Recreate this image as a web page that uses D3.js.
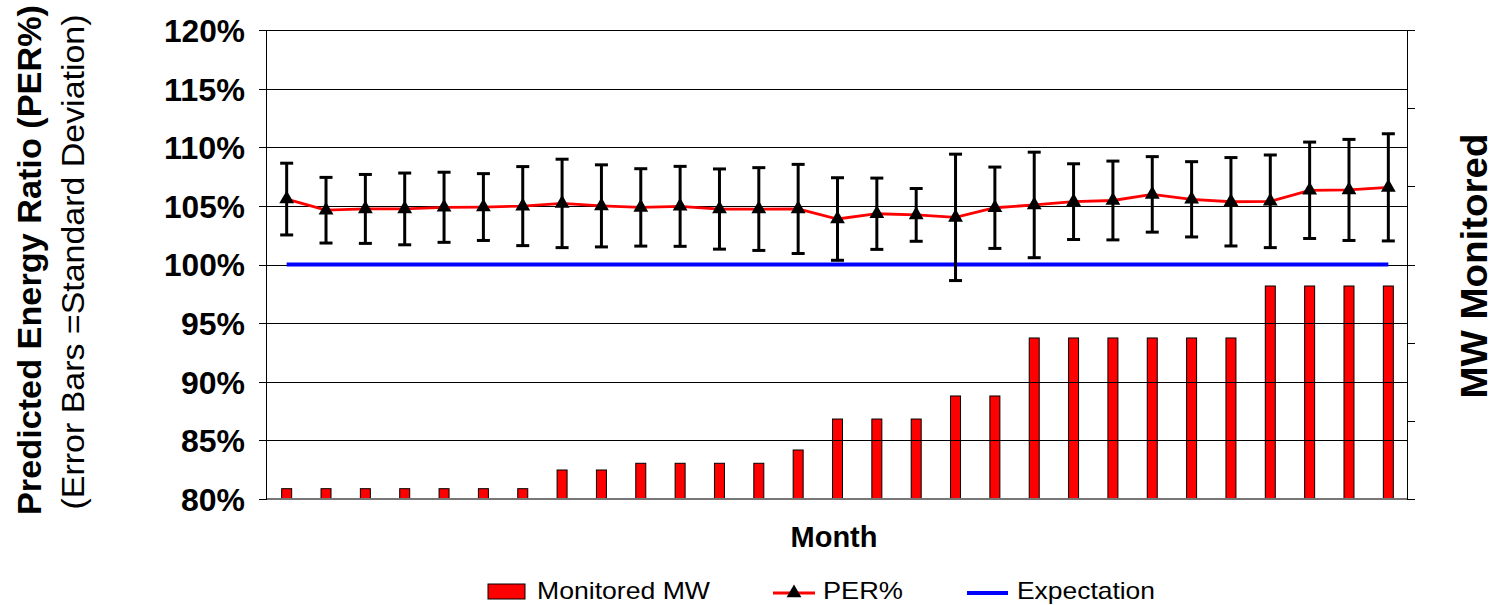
<!DOCTYPE html>
<html>
<head>
<meta charset="utf-8">
<script src="https://cdn.jsdelivr.net/npm/d3@7"></script>
<style>
  html, body { margin: 0; padding: 0; background: #fff; }
  svg { display: block; font-family: "Liberation Sans", Arial, sans-serif; }
</style>
</head>
<body>
<svg id="chart" width="1495" height="605"></svg>
<script>
// ---- data ----
const months = ["1","2","3","4","5","6","7","8","9","10","11","12","13","14","15",
                "16","17","18","19","20","21","22","23","24","25","26","27","28","29"];
const perValues = [105.58, 104.63, 104.74, 104.74, 104.88, 104.90, 104.98, 105.21, 105.00, 104.87,
                   104.96, 104.73, 104.73, 104.74, 103.88, 104.33, 104.23, 104.02, 104.84, 105.08,
                   105.36, 105.46, 105.98, 105.56, 105.35, 105.39, 106.33, 106.36, 106.58];
const perSD = [3.06, 2.80, 2.94, 3.06, 2.99, 2.85, 3.37, 3.77, 3.50, 3.30,
               3.41, 3.42, 3.53, 3.80, 3.52, 3.04, 2.25, 5.39, 3.47, 4.50,
               3.23, 3.36, 3.22, 3.21, 3.77, 3.95, 4.11, 4.31, 4.57];
const monitoredMW = [1.32, 1.32, 1.32, 1.32, 1.32, 1.32, 1.32, 3.71, 3.71, 4.57,
                     4.57, 4.57, 4.57, 6.27, 10.23, 10.23, 10.23, 13.18, 13.18, 20.6,
                     20.6, 20.6, 20.6, 20.6, 20.6, 27.25, 27.25, 27.25, 27.25];
const expectation = 100;
const leftTicks = [80, 85, 90, 95, 100, 105, 110, 115, 120];
const rightTicks = [0, 10, 20, 30, 40, 50, 60];
const legendLabels = ["Monitored MW", "PER%", "Expectation"];

// ---- layout ----
const svg = d3.select("#chart");
const L = 266, R = 1407, T = 30, B = 499;

const x = d3.scaleBand().domain(months).range([L, R]).padding(0);
const y = d3.scaleLinear().domain([80, 120]).range([B, T]);
const yR = d3.scaleLinear().domain([0, 60]).range([B, T]);
const cx = m => x(m) + x.bandwidth() / 2 + 1;

// bars (secondary axis)
const barW = 10;
svg.append("g").selectAll("rect").data(months).join("rect")
  .attr("x", (m) => cx(m) - barW / 2)
  .attr("y", (m, i) => yR(monitoredMW[i]))
  .attr("width", barW)
  .attr("height", (m, i) => B - yR(monitoredMW[i]))
  .attr("fill", "#ff0000")
  .attr("stroke", "#000")
  .attr("stroke-width", 1);

// gridlines
const grid = svg.append("g")
  .attr("transform", `translate(${L},0)`)
  .call(d3.axisLeft(y).tickValues(leftTicks.slice(1)).tickSize(-(R - L)).tickFormat(""));
grid.select(".domain").remove();
grid.selectAll("line").attr("stroke", "#000").attr("stroke-width", 1).attr("shape-rendering", "crispEdges");

// bottom axis line
svg.append("line").attr("x1", L).attr("x2", R).attr("y1", B).attr("y2", B)
  .attr("stroke", "#777").attr("stroke-width", 2);

// left axis
const ax = svg.append("g")
  .attr("transform", `translate(${L},0)`)
  .call(d3.axisLeft(y).tickValues(leftTicks).tickSize(7).tickPadding(14).tickFormat(d => d + "%"));
ax.select(".domain").attr("stroke", "#000").attr("shape-rendering", "crispEdges");
ax.selectAll("line").attr("stroke", "#000").attr("shape-rendering", "crispEdges");
ax.selectAll("text").attr("font-size", 31).attr("font-weight", "bold")
  .attr("font-family", "'Liberation Sans', Arial, sans-serif").attr("fill", "#000").attr("dy", "0.37em")
  .attr("textLength", 81).attr("lengthAdjust", "spacingAndGlyphs");
ax.selectAll("text").filter(d => d < 100).attr("textLength", 64);

// right axis
const axR = svg.append("g")
  .attr("transform", `translate(${R},0)`)
  .call(d3.axisRight(yR).tickValues(rightTicks).tickSize(8).tickFormat(""));
axR.select(".domain").attr("stroke", "#000").attr("shape-rendering", "crispEdges");
axR.selectAll("line").attr("stroke", "#000").attr("shape-rendering", "crispEdges");

// expectation line
svg.append("line")
  .attr("x1", cx(months[0])).attr("x2", cx(months[months.length - 1]))
  .attr("y1", y(expectation)).attr("y2", y(expectation))
  .attr("stroke", "#0000ff").attr("stroke-width", 3.8);

// PER% line
svg.append("path")
  .datum(months)
  .attr("fill", "none")
  .attr("stroke", "#ff0000")
  .attr("stroke-width", 2.8)
  .attr("d", d3.line().x(m => cx(m)).y((m, i) => y(perValues[i])));

// error bars
const eb = svg.append("g").attr("stroke", "#000").attr("stroke-width", 3);
const capW = 6.5;
months.forEach((m, i) => {
  const hi = y(perValues[i] + perSD[i]), lo = y(perValues[i] - perSD[i]), xc = cx(m);
  eb.append("line").attr("x1", xc).attr("x2", xc).attr("y1", hi).attr("y2", lo);
  eb.append("line").attr("x1", xc - capW).attr("x2", xc + capW).attr("y1", hi).attr("y2", hi);
  eb.append("line").attr("x1", xc - capW).attr("x2", xc + capW).attr("y1", lo).attr("y2", lo);
});

// markers
const tri = d3.symbol().type(d3.symbolTriangle).size(95);
svg.append("g").selectAll("path").data(months).join("path")
  .attr("d", tri)
  .attr("transform", (m, i) => `translate(${cx(m)},${y(perValues[i])})`)
  .attr("fill", "#000");

// titles
svg.append("text")
  .attr("transform", "translate(41,260) rotate(-90)")
  .attr("text-anchor", "middle").attr("font-size", 34).attr("font-weight", "bold")
  .attr("textLength", 510).attr("lengthAdjust", "spacingAndGlyphs")
  .text("Predicted Energy Ratio (PER%)");
svg.append("text")
  .attr("transform", "translate(84,262) rotate(-90)")
  .attr("text-anchor", "middle").attr("font-size", 32)
  .attr("textLength", 495).attr("lengthAdjust", "spacingAndGlyphs")
  .text("(Error Bars =Standard Deviation)");
svg.append("text")
  .attr("transform", "translate(1487,266) rotate(-90)")
  .attr("text-anchor", "middle").attr("font-size", 37).attr("font-weight", "bold")
  .attr("textLength", 265).attr("lengthAdjust", "spacingAndGlyphs")
  .text("MW Monitored");
svg.append("text")
  .attr("x", 834).attr("y", 547)
  .attr("text-anchor", "middle").attr("font-size", 29).attr("font-weight", "bold")
  .text("Month");

// legend
const lg = svg.append("g").attr("font-size", 24);
const lgY = 593;
lg.append("rect").attr("x", 488).attr("y", 584).attr("width", 37).attr("height", 15)
  .attr("fill", "#ff0000").attr("stroke", "#000").attr("stroke-width", 1);
lg.append("text").attr("x", 537).attr("y", 599).attr("textLength", 173)
  .attr("lengthAdjust", "spacingAndGlyphs").text(legendLabels[0]);
lg.append("line").attr("x1", 773).attr("x2", 815).attr("y1", lgY).attr("y2", lgY)
  .attr("stroke", "#ff0000").attr("stroke-width", 2.8);
lg.append("path").attr("d", tri).attr("transform", `translate(794,${lgY})`).attr("fill", "#000");
lg.append("text").attr("x", 823).attr("y", 599).attr("textLength", 80)
  .attr("lengthAdjust", "spacingAndGlyphs").text(legendLabels[1]);
lg.append("line").attr("x1", 967).attr("x2", 1008).attr("y1", lgY).attr("y2", lgY)
  .attr("stroke", "#0000ff").attr("stroke-width", 3.8);
lg.append("text").attr("x", 1017).attr("y", 599).attr("textLength", 138)
  .attr("lengthAdjust", "spacingAndGlyphs").text(legendLabels[2]);
</script>
</body>
</html>
